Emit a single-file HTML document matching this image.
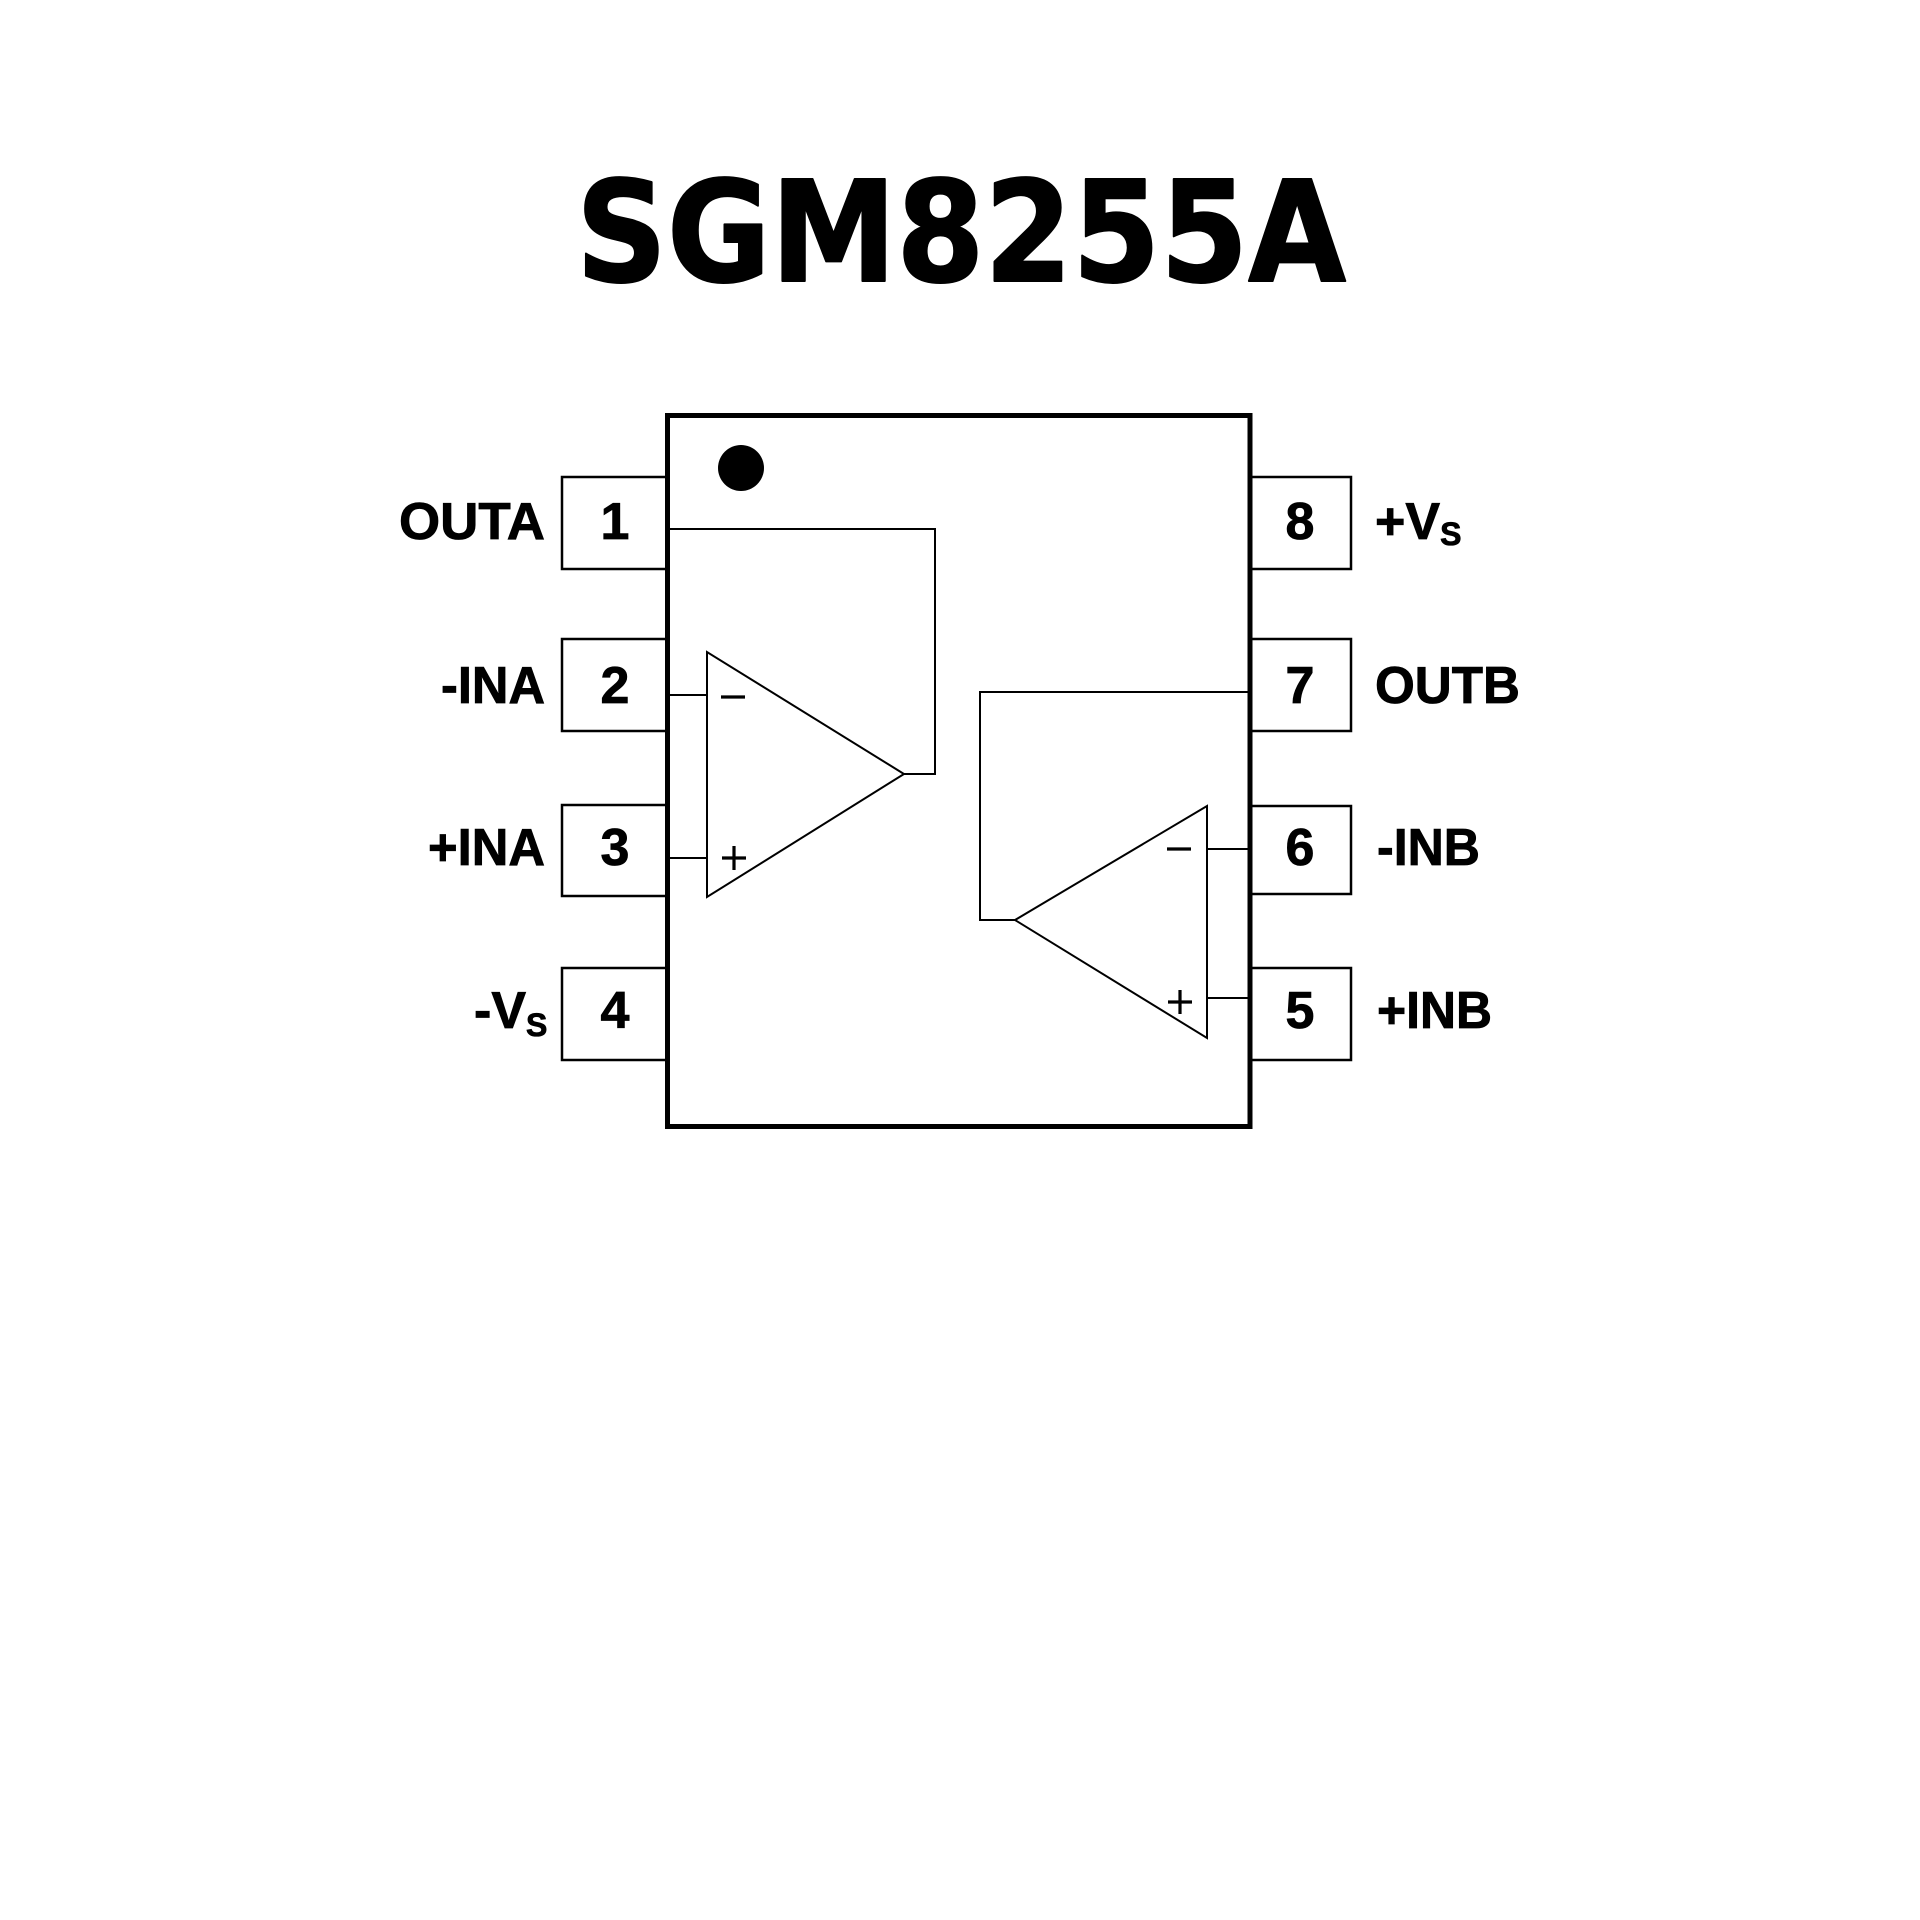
<!DOCTYPE html>
<html>
<head>
<meta charset="utf-8">
<style>
html,body{margin:0;padding:0;background:#fff;}
svg{display:block;}
</style>
</head>
<body>
<svg width="1920" height="1920" viewBox="0 0 1920 1920" xmlns="http://www.w3.org/2000/svg">
<rect width="1920" height="1920" fill="#fff"/>
<!-- Title -->
<text x="576" y="281" font-family="'DejaVu Sans', 'Liberation Sans', sans-serif" font-weight="bold" font-size="140" textLength="770" lengthAdjust="spacingAndGlyphs" fill="#000" stroke="#000" stroke-width="2" stroke-linejoin="round">SGM8255A</text>

<g fill="none" stroke="#000">
  <!-- left pin boxes -->
  <rect x="562" y="477" width="106" height="92" stroke-width="2.5"/>
  <rect x="562" y="639" width="106" height="92" stroke-width="2.5"/>
  <rect x="562" y="805" width="106" height="91" stroke-width="2.5"/>
  <rect x="562" y="968" width="106" height="92" stroke-width="2.5"/>
  <!-- right pin boxes -->
  <rect x="1250" y="477" width="101" height="92" stroke-width="2.5"/>
  <rect x="1250" y="639" width="101" height="92" stroke-width="2.5"/>
  <rect x="1250" y="806" width="101" height="88" stroke-width="2.5"/>
  <rect x="1250" y="968" width="101" height="92" stroke-width="2.5"/>
</g>
<!-- chip body -->
<rect x="667.5" y="415.5" width="582.5" height="711" fill="#fff" stroke="#000" stroke-width="5"/>
<!-- pin 1 dot -->
<circle cx="741" cy="468" r="23" fill="#000"/>

<g fill="none" stroke="#000" stroke-width="2">
  <!-- Amp A -->
  <polyline points="670,529 935,529 935,774 904,774"/>
  <polygon points="707,652 707,897 904,774"/>
  <line x1="670" y1="695" x2="707" y2="695"/>
  <line x1="670" y1="858" x2="707" y2="858"/>
  <!-- Amp B -->
  <polyline points="1248,692 980,692 980,920 1015,920"/>
  <polygon points="1207,806 1207,1038 1015,920"/>
  <line x1="1207" y1="849" x2="1248" y2="849"/>
  <line x1="1207" y1="998" x2="1248" y2="998"/>
</g>
<!-- opamp signs -->
<g stroke="#000" stroke-width="3.2" fill="none">
  <line x1="721" y1="697" x2="745" y2="697"/>
  <line x1="722" y1="858" x2="746" y2="858"/>
  <line x1="734" y1="846" x2="734" y2="870"/>
  <line x1="1167" y1="849" x2="1191" y2="849"/>
  <line x1="1168" y1="1002" x2="1192" y2="1002"/>
  <line x1="1180" y1="990" x2="1180" y2="1014"/>
</g>

<g font-family="'Liberation Sans', Arial, sans-serif" font-weight="bold" font-size="52" fill="#000" stroke="#000" stroke-width="0.8">
  <!-- pin numbers -->
  <text x="615" y="539" text-anchor="middle">1</text>
  <text x="615" y="703" text-anchor="middle">2</text>
  <text x="615" y="865" text-anchor="middle">3</text>
  <text x="615" y="1028" text-anchor="middle">4</text>
  <text x="1300" y="539" text-anchor="middle">8</text>
  <text x="1300" y="703" text-anchor="middle">7</text>
  <text x="1300" y="865" text-anchor="middle">6</text>
  <text x="1300" y="1028" text-anchor="middle">5</text>
  <!-- left labels -->
  <text x="399" y="539" textLength="146" lengthAdjust="spacingAndGlyphs">OUTA</text>
  <text x="441" y="703" textLength="104" lengthAdjust="spacingAndGlyphs">-INA</text>
  <text x="428" y="865" textLength="117" lengthAdjust="spacingAndGlyphs">+INA</text>
  <text x="474" y="1028">-V<tspan font-size="32" dy="8">S</tspan></text>
  <!-- right labels -->
  <text x="1375" y="539">+V<tspan font-size="32" dy="6">S</tspan></text>
  <text x="1375" y="703" textLength="145" lengthAdjust="spacingAndGlyphs">OUTB</text>
  <text x="1377" y="865" textLength="103" lengthAdjust="spacingAndGlyphs">-INB</text>
  <text x="1377" y="1028" textLength="115" lengthAdjust="spacingAndGlyphs">+INB</text>
</g>
</svg>
</body>
</html>
